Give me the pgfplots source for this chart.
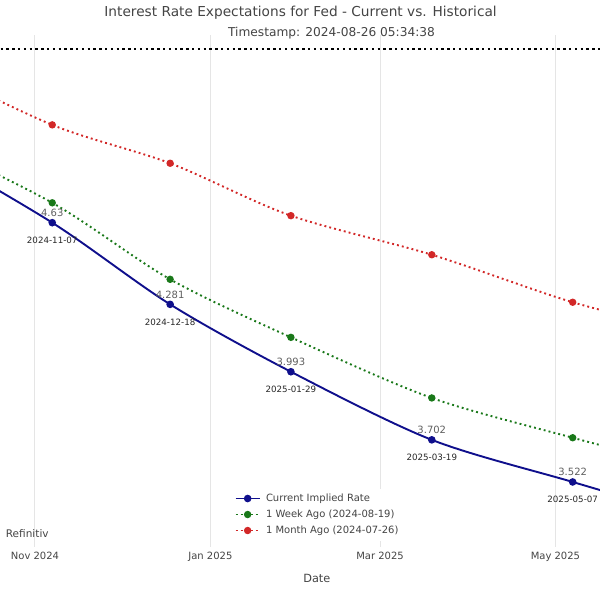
\documentclass[border=0pt]{standalone}
\usepackage{fontspec}
\setmainfont{DejaVu Sans}
\usepackage{pgfplots}
\pgfplotsset{compat=1.18}
\definecolor{cblue}{RGB}{15,15,140}
\definecolor{cgreen}{RGB}{25,120,25}
\definecolor{cred}{RGB}{210,40,40}
\definecolor{gridgray}{RGB}{229,229,229}
\definecolor{txtgray}{RGB}{68,68,68}
\definecolor{valgray}{RGB}{95,95,95}
\newcommand{\fs}[1]{\fontsize{#1}{#1}\selectfont}
\begin{document}
\begin{tikzpicture}
\useasboundingbox (0,0) rectangle (600pt,593pt);
\begin{axis}[
  at={(0pt,46pt)}, anchor=south west,
  scale only axis, width=600pt, height=512pt,
  clip mode=individual,
  xmin=-12.17, xmax=196.5,
  ymin=3.2441, ymax=5.4321,
  axis line style={draw=none},
  major tick length=0pt,
  ytick=\empty,
  xtick={0,61,120,181},
  xticklabels={Nov 2024, Jan 2025, Mar 2025, May 2025},
  xticklabel style={anchor=north, inner sep=0pt, yshift=-5pt, font=\fs{10}, text=txtgray},
  xmajorgrids,
  grid style={gridgray, line width=1pt},
  legend style={at={(0.3825,0.1146)}, anchor=north west, draw=none, fill=white,
    font=\fs{10}, text=txtgray, inner sep=5pt, row sep=6pt, column sep=5.4pt,
    nodes={inner xsep=0pt, inner ysep=0pt, text height=7.5pt, text depth=2.5pt}},
  legend cell align=left,
  legend image code/.code={\draw[#1, mark repeat=2, mark phase=2] plot coordinates {(0pt,0pt) (12pt,0pt) (24pt,0pt)};},
]
% current rate line
\addplot[black, line width=2.6pt, dash pattern=on 2.4pt off 3.4pt, forget plot] coordinates {(-20,5.373) (210,5.373)};
\addplot[cblue, line width=1.9pt, smooth, mark=*, mark size=2.8pt] coordinates {
 (-44,4.99) (6,4.63) (47,4.281) (89,3.993) (138,3.702) (187,3.522) (229,3.37)};
\addlegendentry{Current Implied Rate}
\addplot[cgreen, line width=1.9pt, dash pattern=on 1.9pt off 3.1pt, smooth, mark=*, mark size=2.7pt, mark options={solid}] coordinates {
 (-44,5.02) (6,4.715) (47,4.388) (89,4.140) (138,3.881) (187,3.711) (229,3.576)};
\addlegendentry{1 Week Ago (2024-08-19)}
\addplot[cred, line width=1.9pt, dash pattern=on 1.9pt off 3.1pt, smooth, mark=*, mark size=2.7pt, mark options={solid}] coordinates {
 (-44,5.34) (6,5.048) (47,4.884) (89,4.660) (138,4.493) (187,4.290) (229,4.16)};
\addlegendentry{1 Month Ago (2024-07-26)}
% value labels
\addplot[draw=none, forget plot, nodes near coords, point meta=explicit symbolic,
  nodes near coords style={anchor=south, inner sep=0pt, yshift=6pt, font=\fs{10}, text=valgray}] coordinates {
 (6,4.63)[4.63] (47,4.281)[4.281] (89,3.993)[3.993] (138,3.702)[3.702] (187,3.522)[3.522]};
% date labels
\addplot[draw=none, forget plot, nodes near coords, point meta=explicit symbolic,
  nodes near coords style={anchor=north, inner sep=0pt, yshift=-14pt, font=\fs{8.7}, text=black!85}] coordinates {
 (6,4.63)[2024-11-07] (47,4.281)[2024-12-18] (89,3.993)[2025-01-29] (138,3.702)[2025-03-19] (187,3.522)[2025-05-07]};
\node[font=\fs{13.7}, text=txtgray, anchor=center] at (axis description cs:0.501,1.0443) {Interest Rate Expectations for Fed - Current vs. Historical};
\node[font=\fs{12.2}, text=txtgray, anchor=center] at (axis description cs:0.5525,1.0039) {Timestamp: 2024-08-26 05:34:38};
\node[font=\fs{11.3}, text=txtgray, anchor=center] at (axis description cs:0.528,-0.0605) {Date};
\node[font=\fs{10.5}, text=txtgray, anchor=base west, inner sep=0pt] at (axis description cs:0.0095,0.0195) {Refinitiv};
\end{axis}
\end{tikzpicture}
\end{document}
